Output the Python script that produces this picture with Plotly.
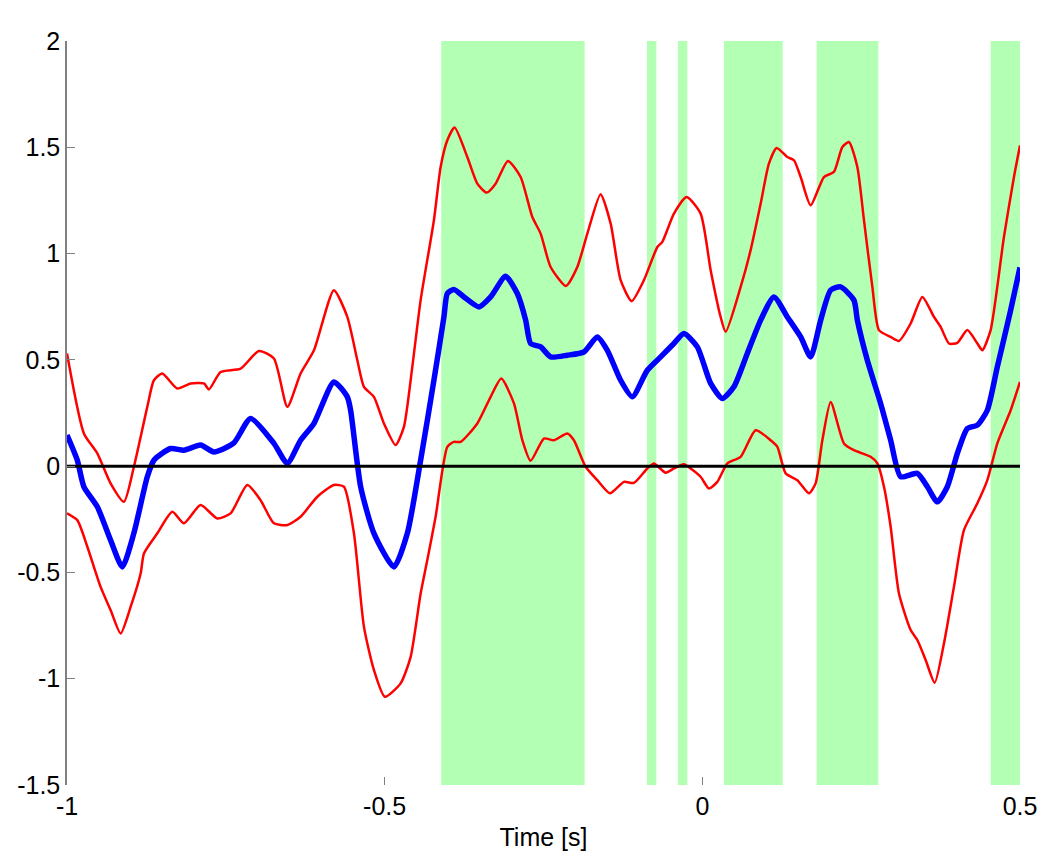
import plotly.graph_objects as go

# Time axis samples and curve values
mean_x = [-1.0, -0.9838, -0.9734, -0.9523, -0.9314, -0.9129, -0.8947, -0.8736, -0.8632, -0.8369,
          -0.8160, -0.7897, -0.7688, -0.7377, -0.7110, -0.6743, -0.6532, -0.6323, -0.6113, -0.5799,
          -0.5588, -0.5536, -0.5378, -0.5169, -0.4854, -0.4643, -0.4434, -0.4225, -0.4067, -0.4014,
          -0.3910, -0.3752, -0.3516, -0.3332, -0.3096, -0.2912, -0.2781, -0.2703, -0.2545, -0.2388,
          -0.2125, -0.1864, -0.1653, -0.1495, -0.1286, -0.1102, -0.0866, -0.0656, -0.0447, -0.0290,
          -0.0079, 0.0131, 0.0315, 0.0497, 0.0708, 0.0918, 0.1127, 0.1338, 0.1548, 0.1705,
          0.1863, 0.2020, 0.2177, 0.2386, 0.2440, 0.2597, 0.2806, 0.2964, 0.3121, 0.3384,
          0.3542, 0.3699, 0.3856, 0.4014, 0.4171, 0.4329, 0.4486, 0.4643, 0.4853, 0.5]
mean_y = [0.146, 0.028, -0.097, -0.191, -0.348, -0.474, -0.315, -0.050, 0.028, 0.083,
          0.075, 0.099, 0.067, 0.108, 0.224, 0.107, 0.013, 0.122, 0.201, 0.396,
          0.326, 0.263, -0.097, -0.316, -0.474, -0.316, 0.028, 0.404, 0.702, 0.812,
          0.831, 0.796, 0.749, 0.796, 0.893, 0.812, 0.687, 0.577, 0.561, 0.514,
          0.522, 0.537, 0.608, 0.545, 0.404, 0.326, 0.451, 0.514, 0.577, 0.624,
          0.561, 0.389, 0.318, 0.373, 0.530, 0.687, 0.796, 0.702, 0.608, 0.514,
          0.687, 0.828, 0.843, 0.781, 0.687, 0.498, 0.295, 0.122, -0.050, -0.034,
          -0.097, -0.168, -0.097, 0.060, 0.177, 0.193, 0.263, 0.467, 0.734, 0.935]

upper_x = [-1.0, -0.9734, -0.9523, -0.9314, -0.9104, -0.8947, -0.8736, -0.8632, -0.8500, -0.8264,
           -0.8054, -0.7845, -0.7766, -0.7582, -0.7267, -0.6979, -0.6743, -0.6532, -0.6323, -0.6113,
           -0.5799, -0.5588, -0.5430, -0.5326, -0.5169, -0.5012, -0.4828, -0.4697, -0.4565, -0.4434,
           -0.4225, -0.4119, -0.4014, -0.3899, -0.3699, -0.3542, -0.3395, -0.3254, -0.3060, -0.2860,
           -0.2676, -0.2545, -0.2388, -0.2147, -0.1968, -0.1810, -0.1601, -0.1443, -0.1286, -0.1113,
           -0.0919, -0.0708, -0.0630, -0.0447, -0.0247, -0.0027, 0.0131, 0.0288, 0.0367, 0.0603,
           0.0760, 0.0918, 0.1048, 0.1170, 0.1338, 0.1442, 0.1548, 0.1705, 0.1914, 0.2071,
           0.2204, 0.2308, 0.2440, 0.2544, 0.2676, 0.2780, 0.2964, 0.3095, 0.3279, 0.3463,
           0.3646, 0.3751, 0.3882, 0.4014, 0.4171, 0.4329, 0.4407, 0.4538, 0.4747, 0.4905, 0.5]
upper_y = [0.530, 0.154, 0.060, -0.081, -0.168, -0.003, 0.279, 0.404, 0.436, 0.365,
           0.389, 0.389, 0.361, 0.443, 0.459, 0.542, 0.506, 0.279, 0.436, 0.545,
           0.828, 0.702, 0.498, 0.373, 0.326, 0.201, 0.099, 0.185, 0.467, 0.781,
           1.157, 1.407, 1.533, 1.593, 1.454, 1.329, 1.287, 1.329, 1.436, 1.360,
           1.172, 1.094, 0.937, 0.848, 0.937, 1.094, 1.279, 1.141, 0.875, 0.776,
           0.875, 1.031, 1.055, 1.188, 1.266, 1.188, 0.922, 0.702, 0.632, 0.843,
           1.016, 1.235, 1.423, 1.497, 1.454, 1.439, 1.360, 1.227, 1.360, 1.384,
           1.501, 1.525, 1.407, 1.157, 0.843, 0.640, 0.608, 0.589, 0.671, 0.796,
           0.702, 0.655, 0.577, 0.580, 0.640, 0.577, 0.545, 0.640, 1.078, 1.360, 1.509]

lower_x = [-1.0, -0.9838, -0.9680, -0.9471, -0.9314, -0.9156, -0.8999, -0.8841, -0.8789, -0.8578,
           -0.8342, -0.8160, -0.7897, -0.7634, -0.7425, -0.7162, -0.6953, -0.6743, -0.6532, -0.6323,
           -0.6060, -0.5799, -0.5641, -0.5484, -0.5326, -0.5169, -0.4996, -0.4749, -0.4591, -0.4434,
           -0.4329, -0.4198, -0.4014, -0.3910, -0.3804, -0.3542, -0.3332, -0.3164, -0.2965, -0.2833,
           -0.2703, -0.2493, -0.2336, -0.2125, -0.2021, -0.1837, -0.1653, -0.1454, -0.1234, -0.1077,
           -0.0866, -0.0762, -0.0578, -0.0447, -0.0290, -0.0184, -0.0027, 0.0104, 0.0236, 0.0394,
           0.0603, 0.0839, 0.1075, 0.1181, 0.1311, 0.1495, 0.1678, 0.1783, 0.1889, 0.2020,
           0.2229, 0.2386, 0.2649, 0.2755, 0.2859, 0.2964, 0.3095, 0.3279, 0.3384, 0.3515,
           0.3657, 0.3803, 0.3960, 0.4118, 0.4329, 0.4486, 0.4643, 0.4853, 0.5]
lower_y = [-0.222, -0.254, -0.379, -0.568, -0.677, -0.787, -0.662, -0.505, -0.411, -0.316,
           -0.215, -0.269, -0.183, -0.246, -0.222, -0.089, -0.160, -0.269, -0.277, -0.238,
           -0.144, -0.089, -0.097, -0.316, -0.756, -0.959, -1.085, -1.022, -0.897, -0.599,
           -0.442, -0.238, 0.091, 0.114, 0.114, 0.201, 0.326, 0.412, 0.295, 0.122,
           0.025, 0.130, 0.122, 0.154, 0.122, -0.003, -0.066, -0.128, -0.074, -0.079,
           -0.011, 0.013, -0.031, -0.011, 0.009, -0.011, -0.050, -0.105, -0.074, 0.013,
           0.044, 0.169, 0.122, 0.091, -0.034, -0.066, -0.128, -0.081, 0.122, 0.302,
           0.107, 0.075, 0.044, 0.013, -0.097, -0.285, -0.599, -0.771, -0.818, -0.912,
           -1.019, -0.834, -0.568, -0.301, -0.175, -0.066, 0.107, 0.263, 0.396]

# Significant intervals (green bands)
band_starts = [-0.411, -0.0872, -0.0384, 0.034, 0.180, 0.4538]
band_ends = [-0.1853, -0.0724, -0.0236, 0.1264, 0.277, 0.5]

# Zero reference line
zero_x = [-1.0, 0.5]
zero_y = [0.0, 0.0]

# Axis ticks
x_tickvals = [-1, -0.5, 0, 0.5]
x_ticktext = ["-1", "-0.5", "0", "0.5"]
y_tickvals = [-1.5, -1, -0.5, 0, 0.5, 1, 1.5, 2]
y_ticktext = ["-1.5", "-1", "-0.5", "0", "0.5", "1", "1.5", "2"]

fig = go.Figure()

for s, e in zip(band_starts, band_ends):
    fig.add_shape(type="rect", xref="x", yref="paper", x0=s, x1=e, y0=0, y1=1,
                  fillcolor="#b3ffb3", line_width=0, layer="below")

red_line = dict(color="#ff0000", width=2.5, shape="spline", smoothing=0.6)
fig.add_trace(go.Scatter(x=upper_x, y=upper_y, mode="lines", line=red_line, showlegend=False))
fig.add_trace(go.Scatter(x=lower_x, y=lower_y, mode="lines", line=red_line, showlegend=False))
fig.add_trace(go.Scatter(x=mean_x, y=mean_y, mode="lines",
                         line=dict(color="#0000ff", width=5.5, shape="spline", smoothing=0.6),
                         showlegend=False))
fig.add_trace(go.Scatter(x=zero_x, y=zero_y, mode="lines",
                         line=dict(color="#000000", width=3), showlegend=False))

font_family = "Liberation Sans, Arial, sans-serif"
fig.update_layout(
    width=1050, height=859,
    margin=dict(l=67, r=30, t=41, b=74),
    paper_bgcolor="white", plot_bgcolor="white",
    font=dict(family=font_family, size=25, color="black"),
)
fig.update_xaxes(
    range=[-1, 0.5], tickvals=x_tickvals, ticktext=x_ticktext,
    showgrid=False, zeroline=False, showline=False,
    ticks="inside", ticklen=8, tickcolor="#808080", tickwidth=1,
    ticklabelstandoff=4,
    tickfont=dict(size=25), title=dict(text="Time [s]", font=dict(size=25), standoff=9),
)
fig.update_yaxes(
    range=[-1.5, 2], tickvals=y_tickvals, ticktext=y_ticktext,
    showgrid=False, zeroline=False, showline=True, linecolor="#808080", linewidth=1.5,
    ticks="inside", ticklen=8, tickcolor="#808080", tickwidth=1,
    tickfont=dict(size=25),
)

fig.write_html("out.html", config={"displayModeBar": False},
               post_script="document.body.style.margin='0';document.body.style.overflow='hidden';")
